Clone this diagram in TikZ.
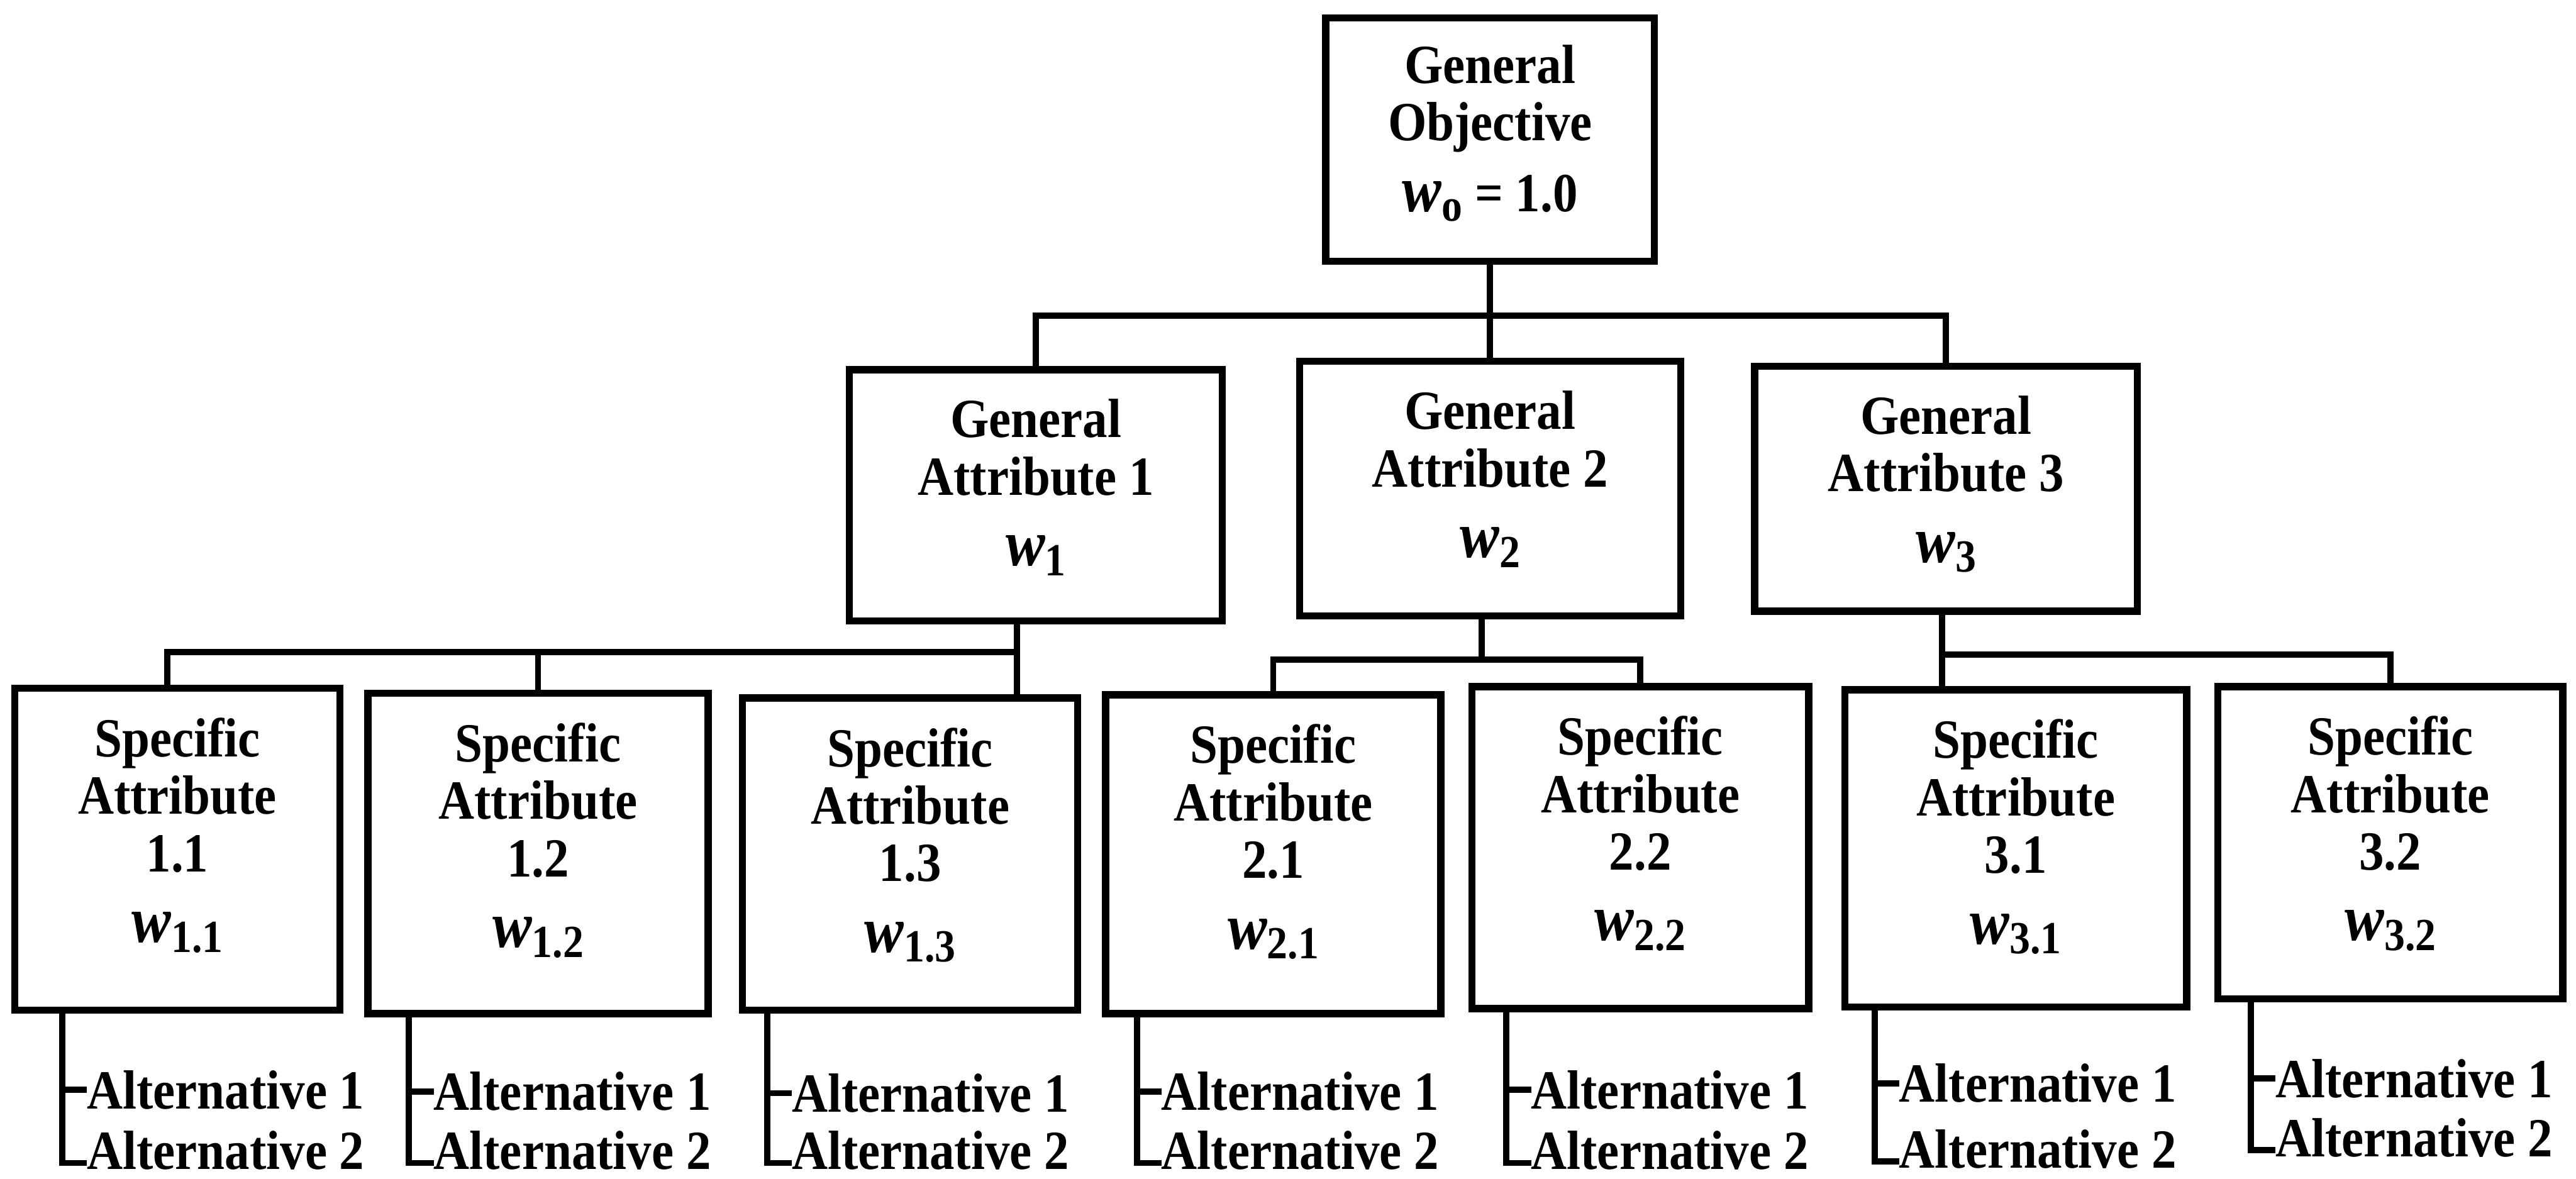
\documentclass[tikz,border=0pt]{standalone}
\usepackage{fontspec}
\setmainfont{Liberation Serif}[FakeStretch=0.9]
% weight symbol: large italic w with a lowered bold index
\newcommand\wgt[1]{{\fontsize{20}{20}\selectfont\itshape w}\raisebox{-3pt}{\fontsize{14}{14}\selectfont #1}}
\begin{document}
\begin{tikzpicture}[x=0.5pt,y=-0.5pt,
  every node/.style={inner sep=0pt, outer sep=0pt},
  boxn/.style={draw, line width=2.2pt},
  lbl/.style={align=center, anchor=north, font=\bfseries\fontsize{16.8}{17.5}\selectfont},
  alt/.style={anchor=base west, font=\bfseries\fontsize{16.8}{17.5}\selectfont},
  link/.style={line width=1.9pt}]
\useasboundingbox (0,0) rectangle (1568,717.6);

% ---- boxes ----
\node[boxn, minimum width=100pt,   minimum height=74pt]   (to)   at (907,85)      {};
\node[boxn, minimum width=113.5pt, minimum height=76.5pt] (ga1)  at (630.5,301.5) {};
\node[boxn, minimum width=116pt,   minimum height=77.5pt] (ga2)  at (907,297.5)   {};
\node[boxn, minimum width=116.5pt, minimum height=74.5pt] (ga3)  at (1184.5,297.5){};
\node[boxn, minimum width=99pt,    minimum height=98pt]   (sa11) at (108,517)     {};
\node[boxn, minimum width=103.5pt, minimum height=97.5pt] (sa12) at (327.5,519.5) {};
\node[boxn, minimum width=102pt,   minimum height=95pt]   (sa13) at (554,520)     {};
\node[boxn, minimum width=102pt,   minimum height=97pt]   (sa21) at (775,520)     {};
\node[boxn, minimum width=102.5pt, minimum height=98pt]   (sa22) at (998.5,516)   {};
\node[boxn, minimum width=104pt,   minimum height=96.5pt] (sa31) at (1227,516.5)  {};
\node[boxn, minimum width=105pt,   minimum height=95pt]   (sa32) at (1455,513)    {};

% ---- box labels ----
\node[lbl] (tot)   at ([yshift=-8.2pt]to.north)  {General\\Objective\\[4pt]\wgt{o} = 1.0};
\node[lbl] (ga1t)  at ([yshift=-9pt]ga1.north)   {General\\Attribute 1\\[4pt]\wgt{1}};
\node[lbl] (ga2t)  at ([yshift=-9pt]ga2.north)   {General\\Attribute 2\\[4pt]\wgt{2}};
\node[lbl] (ga3t)  at ([yshift=-9pt]ga3.north)   {General\\Attribute 3\\[4pt]\wgt{3}};
\node[lbl] (sa11t) at ([yshift=-9pt]sa11.north)  {Specific\\Attribute\\1.1\\[4pt]\wgt{1.1}};
\node[lbl] (sa12t) at ([yshift=-9pt]sa12.north)  {Specific\\Attribute\\1.2\\[4pt]\wgt{1.2}};
\node[lbl] (sa13t) at ([yshift=-9pt]sa13.north)  {Specific\\Attribute\\1.3\\[4pt]\wgt{1.3}};
\node[lbl] (sa21t) at ([yshift=-9pt]sa21.north)  {Specific\\Attribute\\2.1\\[4pt]\wgt{2.1}};
\node[lbl] (sa22t) at ([yshift=-9pt]sa22.north)  {Specific\\Attribute\\2.2\\[4pt]\wgt{2.2}};
\node[lbl] (sa31t) at ([yshift=-9pt]sa31.north)  {Specific\\Attribute\\3.1\\[4pt]\wgt{3.1}};
\node[lbl] (sa32t) at ([yshift=-9pt]sa32.north)  {Specific\\Attribute\\3.2\\[4pt]\wgt{3.2}};

% ---- objective to general attributes ----
\coordinate (j0) at (907,192);
\draw[link] (to.south) -- (ga2.north);
\draw[link] (ga1.north) |- (j0) -| (ga3.north);

% ---- general attribute 1 ----
\coordinate (j1) at (619,397);
\draw[link] (j1 |- ga1.south) -- (j1 |- sa13.north);
\draw[link] (102,0 |- sa11.north) |- (j1);
\draw[link] (sa12.north) -- (sa12.north |- j1);

% ---- general attribute 2 ----
\coordinate (j2) at (902,401.5);
\draw[link] (j2 |- ga2.south) -- (j2);
\draw[link] (sa21.north) |- (j2) -| (sa22.north);

% ---- general attribute 3 ----
\coordinate (j3) at (1182,398.5);
\draw[link] (j3 |- ga3.south) -- (j3 |- sa31.north);
\draw[link] (j3) -| (sa32.north);

% ---- alternatives under each specific attribute ----
\foreach \b/\vx/\ya/\yb in {sa11/38/675/712, sa12/249/676/712, sa13/467/677/712,
                            sa21/692/676/712, sa22/917/675/712, sa31/1141/671/711,
                            sa32/1370/668/704}{
  \node[alt] (\b p) at (\vx+15,\ya) {Alternative 1};
  \node[alt] (\b q) at (\vx+15,\yb) {Alternative 2};
  \draw[link] (\vx,0 |- \b.south) |- ([yshift=2pt]\b q.base west);
  \draw[link] (\vx,0 |- \b p.west) -- (\b p.west);
}
\end{tikzpicture}
\end{document}
